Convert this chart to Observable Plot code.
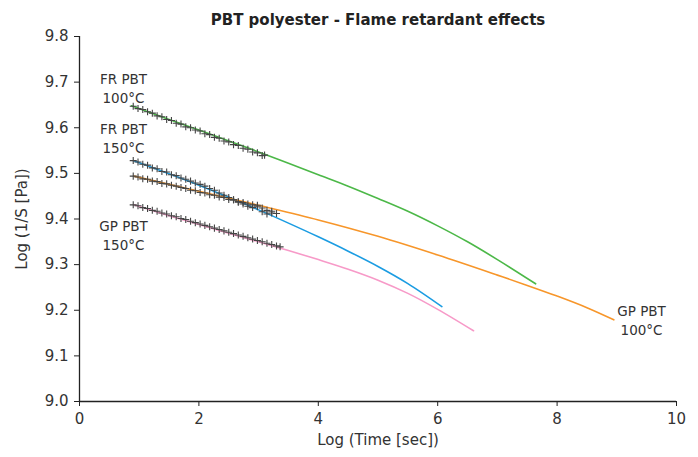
<!DOCTYPE html>
<html>
<head>
<meta charset="utf-8">
<script src="https://cdn.jsdelivr.net/npm/d3@7"></script>
<script src="https://cdn.jsdelivr.net/npm/@observablehq/plot@0.6"></script>
<style>
  html, body { margin: 0; padding: 0; background: #fff; }
  #chart { width: 698px; height: 457px; }
</style>
</head>
<body>
<div id="chart"></div>
<script>
// ---- Data ----
const title = "PBT polyester - Flame retardant effects";
const xLabel = "Log (Time [sec])";
const yLabel = "Log (1/S [Pa])";
const xTicks = [0, 2, 4, 6, 8, 10];
const yTicks = [9.0, 9.1, 9.2, 9.3, 9.4, 9.5, 9.6, 9.7, 9.8];

// fitted curves
const frPbt100X = [0.87, 1.5, 2.0, 2.5, 3.0, 3.5, 4.0, 4.5, 5.0, 5.5, 6.0, 6.5, 7.0, 7.64];
const frPbt100Y = [9.648, 9.618, 9.595, 9.571, 9.547, 9.522, 9.497, 9.472, 9.445, 9.417, 9.385, 9.350, 9.311, 9.258];
const frPbt150X = [0.90, 1.5, 2.0, 2.5, 3.0, 3.5, 4.0, 4.5, 5.0, 5.5, 6.07];
const frPbt150Y = [9.528, 9.499, 9.474, 9.4475, 9.420, 9.391, 9.361, 9.3295, 9.296, 9.2585, 9.208];
const gpPbt100X = [0.91, 2.0, 3.0, 4.0, 5.0, 6.0, 7.0, 7.5, 8.0, 8.5, 8.95];
const gpPbt100Y = [9.494, 9.461, 9.430, 9.398, 9.362, 9.321, 9.277, 9.2545, 9.231, 9.2055, 9.179];
const gpPbt150X = [0.91, 1.5, 2.0, 2.5, 3.0, 3.5, 4.0, 4.5, 5.0, 5.5, 6.0, 6.6];
const gpPbt150Y = [9.431, 9.407, 9.388, 9.369, 9.350, 9.331, 9.311, 9.290, 9.266, 9.237, 9.202, 9.155];

// measured points (+ markers)
const frPbt100PtsX = [0.90, 0.98, 1.06, 1.14, 1.22, 1.30, 1.38, 1.46, 1.54, 1.62, 1.70, 1.78, 1.86, 1.94, 2.02, 2.10, 2.18, 2.26, 2.34, 2.42, 2.50, 2.58, 2.66, 2.74, 2.82, 2.90, 2.98, 3.06, 3.10];
const frPbt100PtsY = [9.647, 9.642, 9.640, 9.635, 9.632, 9.626, 9.624, 9.618, 9.616, 9.610, 9.608, 9.602, 9.600, 9.595, 9.593, 9.587, 9.585, 9.579, 9.577, 9.571, 9.569, 9.563, 9.561, 9.555, 9.553, 9.547, 9.545, 9.539, 9.540];
const frPbt150PtsX = [0.90, 0.98, 1.06, 1.14, 1.22, 1.30, 1.38, 1.46, 1.54, 1.62, 1.70, 1.78, 1.86, 1.94, 2.02, 2.10, 2.18, 2.26, 2.34, 2.42, 2.50, 2.58, 2.66, 2.74, 2.82, 2.90, 2.98, 3.06, 3.14, 3.22];
const frPbt150PtsY = [9.528, 9.525, 9.520, 9.518, 9.512, 9.510, 9.504, 9.503, 9.497, 9.495, 9.490, 9.487, 9.483, 9.479, 9.476, 9.472, 9.467, 9.463, 9.457, 9.452, 9.447, 9.442, 9.437, 9.433, 9.428, 9.425, 9.430, 9.416, 9.411, 9.413];
const gpPbt100PtsX = [0.90, 0.98, 1.06, 1.14, 1.22, 1.30, 1.38, 1.46, 1.54, 1.62, 1.70, 1.78, 1.86, 1.94, 2.02, 2.10, 2.18, 2.26, 2.34, 2.42, 2.50, 2.58, 2.66, 2.74, 2.82, 2.90, 2.98, 3.06, 3.14, 3.22, 3.30];
const gpPbt100PtsY = [9.494, 9.492, 9.488, 9.487, 9.483, 9.482, 9.478, 9.477, 9.474, 9.472, 9.469, 9.467, 9.463, 9.462, 9.458, 9.457, 9.453, 9.452, 9.448, 9.447, 9.443, 9.442, 9.438, 9.436, 9.433, 9.431, 9.427, 9.424, 9.419, 9.417, 9.412];
const gpPbt150PtsX = [0.90, 0.98, 1.06, 1.14, 1.22, 1.30, 1.38, 1.46, 1.54, 1.62, 1.70, 1.78, 1.86, 1.94, 2.02, 2.10, 2.18, 2.26, 2.34, 2.42, 2.50, 2.58, 2.66, 2.74, 2.82, 2.90, 2.98, 3.06, 3.14, 3.22, 3.30, 3.36];
const gpPbt150PtsY = [9.431, 9.429, 9.425, 9.423, 9.419, 9.417, 9.413, 9.411, 9.407, 9.405, 9.401, 9.399, 9.395, 9.392, 9.389, 9.386, 9.383, 9.380, 9.377, 9.374, 9.371, 9.368, 9.365, 9.362, 9.359, 9.356, 9.353, 9.350, 9.347, 9.344, 9.341, 9.339];

const seriesNames = ["FR PBT 100°C", "FR PBT 150°C", "GP PBT 100°C", "GP PBT 150°C"];
const seriesColors = ["#4cb848", "#1b9ce2", "#f7962a", "#f79ac8"];

// curve labels
const labelText = ["FR PBT\n100°C", "FR PBT\n150°C", "GP PBT\n150°C", "GP PBT\n100°C"];
const labelX = [0.737, 0.737, 0.737, 9.415];
const labelY = [9.688, 9.578, 9.366, 9.180];

// ---- build tables ----
const zipTable = (name, xs, ys) => xs.map((x, i) => ({series: name, x, y: ys[i]}));
const lines = [
  ...zipTable(seriesNames[0], frPbt100X, frPbt100Y),
  ...zipTable(seriesNames[1], frPbt150X, frPbt150Y),
  ...zipTable(seriesNames[2], gpPbt100X, gpPbt100Y),
  ...zipTable(seriesNames[3], gpPbt150X, gpPbt150Y)
];
const points = [
  ...zipTable(seriesNames[0], frPbt100PtsX, frPbt100PtsY),
  ...zipTable(seriesNames[1], frPbt150PtsX, frPbt150PtsY),
  ...zipTable(seriesNames[2], gpPbt100PtsX, gpPbt100PtsY),
  ...zipTable(seriesNames[3], gpPbt150PtsX, gpPbt150PtsY)
];
const labels = labelText.map((t, i) => ({t, x: labelX[i], y: labelY[i]}));

const font = "'DejaVu Sans', Verdana, sans-serif";

const chart = Plot.plot({
  width: 698,
  height: 457,
  marginTop: 36,
  marginBottom: 56,
  marginLeft: 79,
  marginRight: 22,
  style: {fontFamily: font, fontSize: "14px", color: "#333", background: "#fff"},
  x: {domain: [0, 10]},
  y: {domain: [9.0, 9.8]},
  color: {domain: seriesNames, range: seriesColors},
  marks: [
    Plot.axisX({ticks: xTicks, tickSize: 5, tickPadding: 7, label: null, fontSize: 15, stroke: "#222"}),
    Plot.axisY({ticks: yTicks, tickSize: 5, tickPadding: 6, label: null, tickFormat: d3.format(".1f"), fontSize: 15, stroke: "#222"}),
    Plot.ruleY([9.0], {stroke: "#222", strokeWidth: 1.3}),
    Plot.ruleX([0], {stroke: "#222", strokeWidth: 1.3}),
    Plot.line(lines, {x: "x", y: "y", z: "series", stroke: "series", strokeWidth: 1.6, curve: "monotone-x"}),
    Plot.dot(points, {x: "x", y: "y", symbol: "plus", r: 2.4, stroke: "#444", strokeWidth: 1.1}),
    Plot.text(labels, {x: "x", y: "y", text: "t", fontSize: 13.5, fill: "#333", lineHeight: 1.37, textAnchor: "middle"}),
    Plot.text([title], {frameAnchor: "top", dy: -16, lineAnchor: "middle", textAnchor: "middle", fontSize: 15, fontWeight: "bold", fill: "#222"}),
    Plot.text([xLabel], {frameAnchor: "bottom", dy: 39, lineAnchor: "middle", textAnchor: "middle", fontSize: 15, fill: "#333"}),
    Plot.text([yLabel], {frameAnchor: "left", dx: -57, rotate: -90, lineAnchor: "middle", textAnchor: "middle", fontSize: 15, fill: "#333"})
  ]
});
document.getElementById("chart").appendChild(chart);
</script>
</body>
</html>
